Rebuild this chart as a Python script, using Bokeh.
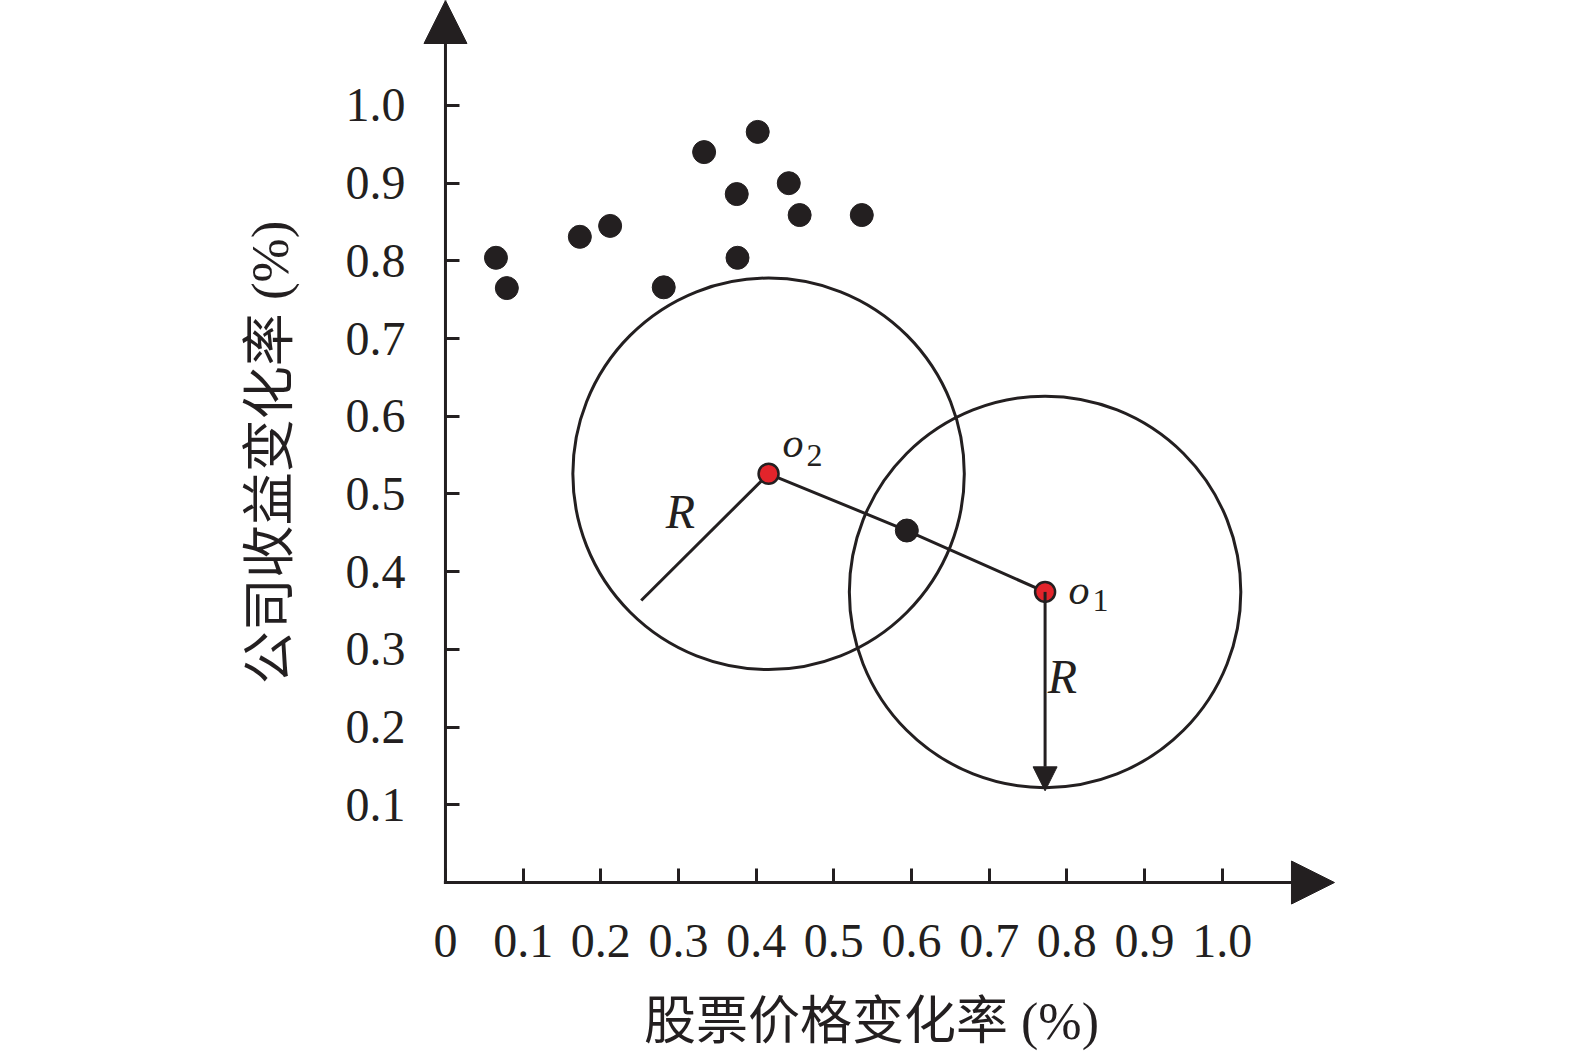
from bokeh.plotting import figure
from bokeh.models import Range1d, FixedTicker, Arrow, NormalHead
from bokeh.core.properties import value
from bokeh.embed import file_html
from bokeh.resources import INLINE

# ---------------- data ----------------
point_x = [0.065, 0.079, 0.173, 0.212, 0.281, 0.333, 0.375, 0.376, 0.402, 0.442, 0.456, 0.536, 0.594]
point_y = [0.804, 0.765, 0.831, 0.845, 0.766, 0.940, 0.886, 0.804, 0.966, 0.900, 0.859, 0.859, 0.453]

center_names = ["o1", "o2"]
center_x = [0.772, 0.416]
center_y = [0.374, 0.526]
radius = 0.252

radius_line_end_x = 0.252   # end of the R segment drawn from o2
radius_line_end_y = 0.363
radius_arrow_end_y = 0.118  # tip of the R arrow drawn from o1

x_ticks = [0, 0.1, 0.2, 0.3, 0.4, 0.5, 0.6, 0.7, 0.8, 0.9, 1.0]
x_tick_labels = ["0", "0.1", "0.2", "0.3", "0.4", "0.5", "0.6", "0.7", "0.8", "0.9", "1.0"]
y_ticks = [0.1, 0.2, 0.3, 0.4, 0.5, 0.6, 0.7, 0.8, 0.9, 1.0]
y_tick_labels = ["0.1", "0.2", "0.3", "0.4", "0.5", "0.6", "0.7", "0.8", "0.9", "1.0"]

x_axis_end = 1.1446   # arrow tips of the axes
y_axis_end = 1.1351

x_title = "股票价格变化率 (%)"
y_title = "公司收益变化率 (%)"

# ---------------- style ----------------
INK = "#231f20"
RED = "#e3242b"
SERIF = "Liberation Serif"
CJK = "Liberation Serif, Noto Sans CJK SC"

# the frame covers the whole canvas so that nothing (arrows, labels) is clipped
p = figure(width=1560, height=1056, output_backend="svg", toolbar_location=None,
           x_range=Range1d(-0.5729, 1.4356), y_range=Range1d(-0.2239, 1.1351),
           min_border_left=0, min_border_right=0, min_border_top=0, min_border_bottom=0)
p.outline_line_color = None
p.grid.visible = False
p.background_fill_color = "white"
p.border_fill_color = "white"

# axes drawn at data 0 (axis lines themselves drawn as arrows below)
for ax, ticks, labels, bnds in ((p.xaxis[0], x_ticks, x_tick_labels, (0, 1.097)),
                                (p.yaxis[0], y_ticks, y_tick_labels, (0, 1.1068))):
    ax.fixed_location = 0
    ax.bounds = bnds
    ax.ticker = FixedTicker(ticks=ticks, minor_ticks=[])
    ax.major_label_overrides = {t: l for t, l in zip(ticks, labels)}
    ax.axis_line_color = None
    ax.major_tick_in = 14
    ax.major_tick_out = 0
    ax.major_tick_line_width = 3
    ax.major_tick_line_color = INK
    ax.minor_tick_line_color = None
    ax.major_label_text_font = SERIF
    ax.major_label_text_font_size = "48px"
    ax.major_label_text_color = INK
    ax.axis_label_text_font = CJK
    ax.axis_label_text_font_style = "normal"
    ax.axis_label_text_color = INK

p.xaxis.axis_label = x_title
p.yaxis.axis_label = y_title
p.xaxis.axis_label_text_font_size = "52px"
p.yaxis.axis_label_text_font_size = "53px"
p.xaxis.major_label_standoff = 42
p.xaxis.axis_label_standoff = 33
p.yaxis.major_label_standoff = 40
p.yaxis.axis_label_standoff = 44
p.yaxis.major_label_orientation = "horizontal"

# axis lines with arrow heads
p.add_layout(Arrow(end=NormalHead(size=43, fill_color=INK, line_color=INK, line_width=1),
                   x_start=-0.002, y_start=0, x_end=x_axis_end, y_end=0,
                   line_color=INK, line_width=3))
p.add_layout(Arrow(end=NormalHead(size=43, fill_color=INK, line_color=INK, line_width=1),
                   x_start=0, y_start=-0.002, x_end=0, y_end=y_axis_end,
                   line_color=INK, line_width=3))

# circles around centers
p.circle(x=center_x, y=center_y, radius=radius, fill_color=None, line_color=INK, line_width=3)

# connecting line o2 -> sample -> o1
p.line(x=[center_x[1], point_x[12], center_x[0]], y=[center_y[1], point_y[12], center_y[0]],
       line_color=INK, line_width=3)

# radius segment from o2
p.line(x=[center_x[1], radius_line_end_x], y=[center_y[1], radius_line_end_y],
       line_color=INK, line_width=3)

# radius arrow from o1
p.add_layout(Arrow(end=NormalHead(size=24, fill_color=INK, line_color=INK, line_width=1),
                   x_start=center_x[0], y_start=center_y[0], x_end=center_x[0], y_end=radius_arrow_end_y,
                   line_color=INK, line_width=3))

# sample points
p.scatter(x=point_x, y=point_y, size=23, fill_color=INK, line_color=INK)

# cluster centers
p.scatter(x=center_x, y=center_y, size=20, fill_color=RED, line_color=INK, line_width=2.5)

# "R" labels
p.text(x=[0.3026, 0.7944], y=[0.4775, 0.2651], text=["R", "R"],
       text_font=value(SERIF), text_font_style="italic", text_font_size="48px",
       text_align="center", text_baseline="middle", text_color=INK)

# center labels: italic o with upright subscript
p.text(x=[0.8021, 0.4339], y=[0.3759, 0.5651], text=["o", "o"],
       text_font=value(SERIF), text_font_style="italic", text_font_size="42px",
       text_align="left", text_baseline="alphabetic", text_color=INK)
p.text(x=[0.8330, 0.4648], y=[0.3630, 0.5497], text=["1", "2"],
       text_font=value(SERIF), text_font_size="32px",
       text_align="left", text_baseline="alphabetic", text_color=INK)

open("out.html", "w").write(file_html(p, INLINE))
